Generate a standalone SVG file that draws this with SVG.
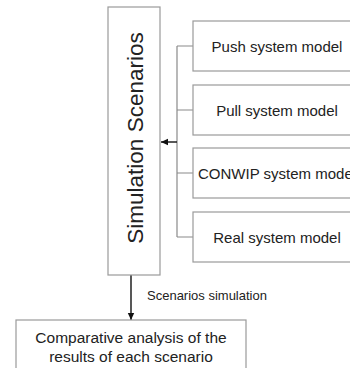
<svg xmlns="http://www.w3.org/2000/svg" width="350" height="368" viewBox="0 0 350 368">
<defs>
<marker id="ah" markerWidth="8" markerHeight="8" refX="7" refY="4" orient="auto" markerUnits="userSpaceOnUse">
<path d="M0,0.8 L7,4 L0,7.2 z" fill="#111"/>
</marker>
<style>
.box{fill:#fff;stroke:#9a9a9a;stroke-width:1.2}
.t{font-family:"Liberation Sans",Arial,sans-serif;fill:#222}
.m{font-size:15px;text-anchor:middle}
.br{stroke:#8a8a8a;stroke-width:1.2;fill:none}
.ar{stroke:#111;stroke-width:1.4;fill:none}
</style>
</defs>
<rect width="350" height="368" fill="#fff"/>
<g id="connectors">
<path class="br" d="M177,46 V237 M177,46 H193 M177,110 H193 M177,173 H193 M177,237 H193"/>
<path class="ar" d="M177,142 H161" marker-end="url(#ah)"/>
<path class="ar" d="M131,275 V320" marker-end="url(#ah)"/>
<text class="t" x="147" y="300" font-size="13">Scenarios simulation</text>
</g>
<g id="sim">
<rect class="box" x="108" y="7" width="52" height="268"/>
<text class="t" transform="translate(143,138) rotate(-90)" font-size="22.5" text-anchor="middle">Simulation Scenarios</text>
</g>
<g id="push">
<rect class="box" x="193" y="21" width="170" height="50"/>
<text class="t m" x="277" y="52">Push system model</text>
</g>
<g id="pull">
<rect class="box" x="193" y="85" width="170" height="50"/>
<text class="t m" x="277" y="116">Pull system model</text>
</g>
<g id="conwip">
<rect class="box" x="193" y="148" width="170" height="50"/>
<text class="t" x="198" y="179" font-size="15">CONWIP system model</text>
</g>
<g id="real">
<rect class="box" x="193" y="212" width="170" height="50"/>
<text class="t m" x="277" y="243">Real system model</text>
</g>
<g id="analysis">
<rect class="box" x="16" y="320" width="230" height="60"/>
<text class="t" x="131" y="343" font-size="15.5" text-anchor="middle">Comparative analysis of the</text>
<text class="t" x="131" y="362" font-size="15.5" text-anchor="middle">results of each scenario</text>
</g>
</svg>
